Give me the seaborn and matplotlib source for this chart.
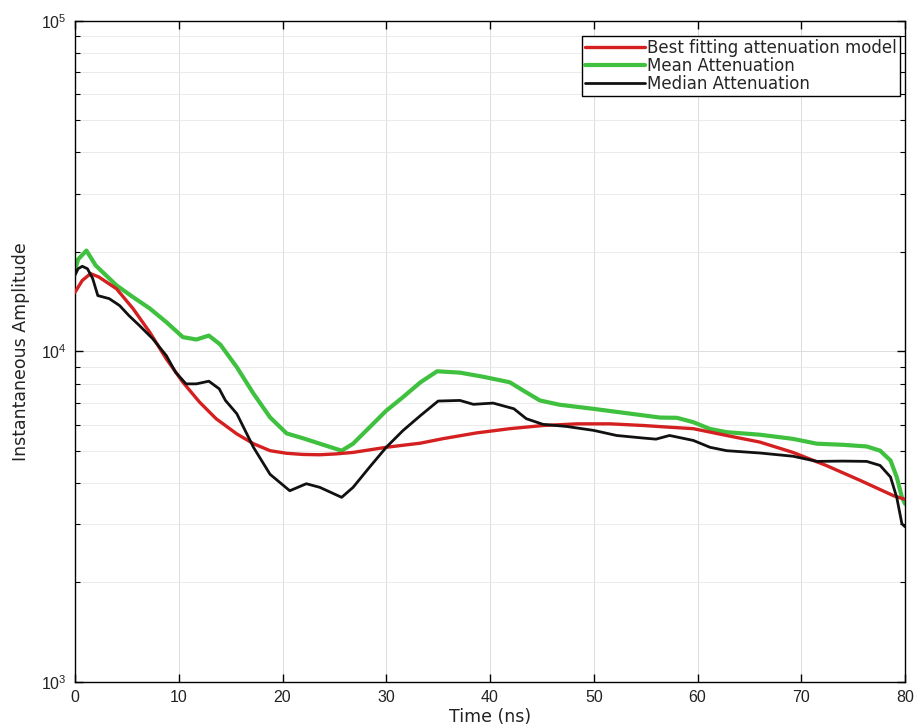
import numpy as np
import pandas as pd
import matplotlib
matplotlib.use("Agg")
import matplotlib.pyplot as plt
import seaborn as sns
from matplotlib.ticker import LogLocator, NullFormatter

# ---------------- data ----------------
t_fit = [0, 0.7, 1.5, 2.3, 4.0, 5.6, 7.2, 8.8, 10.4, 12.0, 13.6, 15.6, 17.2, 18.8,
         20.4, 22.0, 23.6, 25.2, 26.8, 30.0, 33.3, 35.5, 38.7, 41.9, 45.1, 48.4,
         51.6, 54.8, 57.3, 59.6, 62.8, 66.0, 69.2, 72.4, 75.7, 78.9, 80.0]
fit_vals = [15100, 16400, 17200, 16800, 15480, 13470, 11440, 9500, 8070, 7030, 6260,
            5630, 5260, 5010, 4920, 4880, 4870, 4900, 4950, 5130, 5280, 5450, 5670,
            5840, 5970, 6040, 6040, 5970, 5900, 5840, 5570, 5320, 4950, 4520, 4070,
            3660, 3570]

t_mean = [0, 0.3, 1.1, 2.0, 4.0, 5.6, 7.2, 8.8, 10.4, 11.7, 12.9, 14.0, 15.6, 17.2,
          18.8, 20.4, 22.0, 23.6, 25.7, 26.8, 28.4, 30.0, 31.6, 33.3, 34.9, 37.1,
          39.3, 41.9, 43.2, 44.8, 46.7, 49.9, 53.1, 56.4, 58.0, 59.6, 61.2, 62.8,
          66.0, 69.2, 71.5, 74.0, 76.3, 77.6, 78.6, 79.2, 79.7, 80.0]
mean_vals = [17600, 19000, 20200, 18200, 15850, 14600, 13500, 12270, 11050, 10870,
             11170, 10500, 8960, 7460, 6320, 5650, 5460, 5260, 5010, 5260, 5900,
             6620, 7270, 8070, 8710, 8630, 8390, 8070, 7620, 7110, 6900, 6710, 6510,
             6310, 6300, 6110, 5830, 5700, 5600, 5440, 5260, 5220, 5160, 5010, 4680,
             4170, 3620, 3460]

t_median = [0, 0.3, 0.7, 1.2, 1.7, 2.2, 3.3, 4.3, 5.2, 6.2, 7.5, 8.8, 9.7, 10.7,
            11.7, 12.9, 13.9, 14.5, 15.6, 17.2, 18.8, 20.7, 22.3, 23.6, 25.7, 26.8,
            28.4, 30.0, 31.6, 33.3, 35.0, 37.1, 38.4, 40.3, 42.3, 43.5, 45.1, 47.4,
            50.0, 52.2, 54.8, 56.0, 57.3, 59.6, 61.2, 62.8, 66.0, 69.2, 71.5, 74.0,
            76.3, 77.6, 78.6, 79.2, 79.7, 80.0]
median_vals = [17000, 17800, 18100, 17800, 16640, 14760, 14450, 13770, 12840, 11990,
               10920, 9720, 8650, 7980, 7980, 8130, 7710, 7110, 6480, 5130, 4250,
               3790, 3980, 3880, 3620, 3880, 4470, 5130, 5760, 6400, 7080, 7110, 6920,
               6980, 6710, 6260, 6020, 5930, 5770, 5570, 5470, 5430, 5570, 5380, 5130,
               5010, 4930, 4820, 4650, 4660, 4650, 4520, 4170, 3620, 3010, 2950]

labels = ["Best fitting attenuation model", "Mean Attenuation", "Median Attenuation"]
x_ticks = [0, 10, 20, 30, 40, 50, 60, 70, 80]
y_ticks = [1e3, 1e4, 1e5]
y_tick_labels = [r"$10^3$", r"$10^4$", r"$10^5$"]
x_label = "Time (ns)"
y_label = "Instantaneous Amplitude"

# ---------------- plotting ----------------
sns.set_theme(style="white")
plt.rcParams['font.family'] = ['Liberation Sans', 'DejaVu Sans']
plt.rcParams['mathtext.fontset'] = 'custom'
plt.rcParams['mathtext.rm'] = 'Liberation Sans'

fig = plt.figure(figsize=(9.19, 7.28), dpi=100)
ax = fig.add_axes([0.0816, 0.0632, 0.9032, 0.9080])

df_fit = pd.DataFrame({"t": t_fit, "v": fit_vals})
df_mean = pd.DataFrame({"t": t_mean, "v": mean_vals})
df_med = pd.DataFrame({"t": t_median, "v": median_vals})

sns.lineplot(data=df_fit, x="t", y="v", ax=ax, color="#d42020", lw=2.4,
             label=labels[0], sort=False, estimator=None, zorder=3)
sns.lineplot(data=df_mean, x="t", y="v", ax=ax, color="#3fc13f", lw=3.0,
             label=labels[1], sort=False, estimator=None, zorder=2)
sns.lineplot(data=df_med, x="t", y="v", ax=ax, color="#111111", lw=2.0,
             label=labels[2], sort=False, estimator=None, zorder=4)

ax.set_yscale("log")
ax.set_xlim(0, 80)
ax.set_ylim(1e3, 1e5)
ax.set_xticks(x_ticks)
ax.set_xticklabels([str(v) for v in x_ticks])
ax.set_yticks(y_ticks)
ax.set_yticklabels(y_tick_labels)
ax.yaxis.set_minor_locator(LogLocator(base=10, subs=np.arange(2, 10)))
ax.yaxis.set_minor_formatter(NullFormatter())

ax.grid(True, which="major", color="#dcdcdc", lw=0.7)
ax.grid(True, which="minor", axis="y", color="#e8e8e8", lw=0.6)

for s in ax.spines.values():
    s.set_color("black")
    s.set_linewidth(1.0)

ax.tick_params(axis="both", which="both", direction="in", top=True, right=True,
               left=True, bottom=True, colors="black", labelcolor="#222222")
ax.tick_params(axis="both", which="major", length=6, width=1.0, labelsize=11.5, pad=6)
ax.tick_params(axis="y", which="minor", length=3.5, width=0.8)
ax.tick_params(axis="x", which="minor", length=0)

ax.set_xlabel(x_label, fontsize=12.5, color="#222222", labelpad=2,
              family=['DejaVu Sans'])
ax.set_ylabel(y_label, fontsize=12.5, color="#222222", labelpad=8,
              family=['DejaVu Sans'])

leg = ax.legend(loc="upper right", bbox_to_anchor=(0.994, 0.978),
                prop={"family": "DejaVu Sans", "size": 12},
                frameon=True, fancybox=False, edgecolor="black", framealpha=1,
                handlelength=3.6, handletextpad=0.1, labelspacing=0.0,
                borderpad=0.2, borderaxespad=0.0)
leg.get_frame().set_linewidth(1.0)

fig.savefig("out.png", dpi=100)
